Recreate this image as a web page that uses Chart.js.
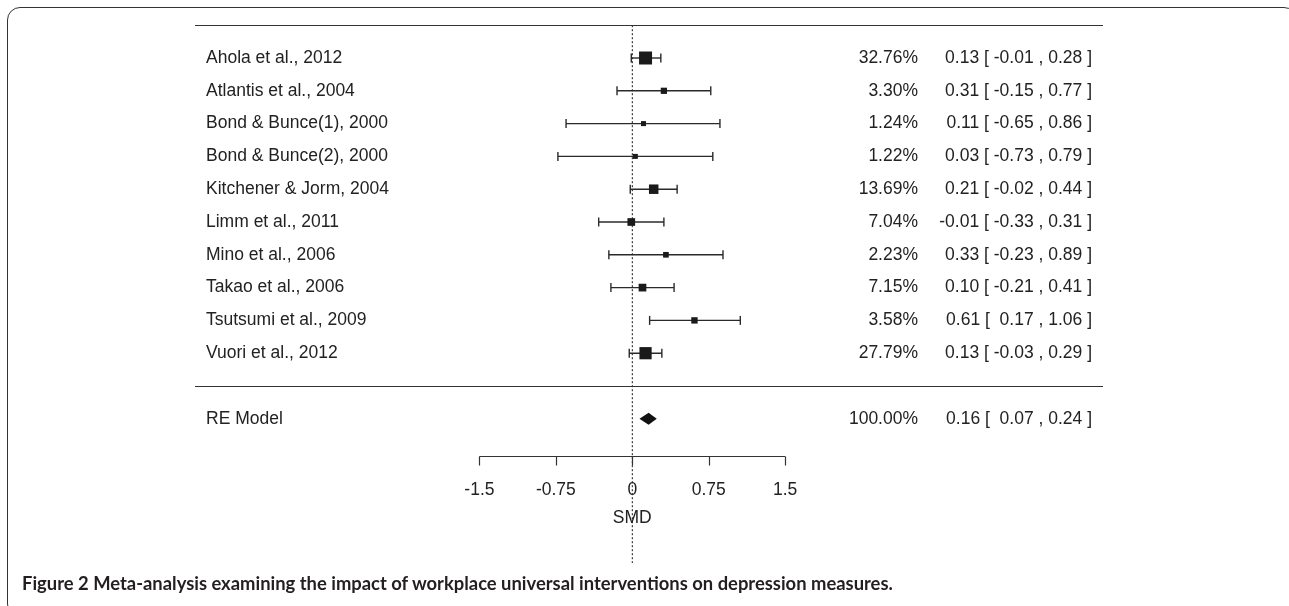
<!DOCTYPE html>
<html>
<head>
<meta charset="utf-8">
<script src="https://cdn.jsdelivr.net/npm/chart.js@4.4.1/dist/chart.umd.min.js"></script>
<style>
  html, body { margin: 0; padding: 0; background: #fff; overflow: hidden; }
  #wrap { position: relative; width: 1289px; height: 606px; }
  #frame {
    position: absolute; left: 7px; top: 7px; width: 1290px; height: 610px;
    border: 1.5px solid #333; border-radius: 13px; box-sizing: border-box;
  }
  #forest { position: absolute; left: 0; top: 0; }
  #caption {
    position: absolute; left: 22px; top: 572px; white-space: nowrap;
    font-family: Lato, "Open Sans", sans-serif; font-weight: 700; font-size: 18.4px;
    color: #231f20;
  }
</style>
</head>
<body>
<div id="wrap">
  <div id="frame"></div>
  <canvas id="forest" width="1289" height="606"></canvas>
  <div id="caption">Figure 2 Meta-analysis examining the impact of workplace universal interventions on depression measures.</div>
</div>
<script>
// ---- data ----
const studies = [
  "Ahola et al., 2012",
  "Atlantis et al., 2004",
  "Bond & Bunce(1), 2000",
  "Bond & Bunce(2), 2000",
  "Kitchener & Jorm, 2004",
  "Limm et al., 2011",
  "Mino et al., 2006",
  "Takao et al., 2006",
  "Tsutsumi et al., 2009",
  "Vuori et al., 2012",
];
const weights = [32.76, 3.30, 1.24, 1.22, 13.69, 7.04, 2.23, 7.15, 3.58, 27.79];
const estimates = [0.13, 0.31, 0.11, 0.03, 0.21, -0.01, 0.33, 0.10, 0.61, 0.13];
const lowers = [-0.01, -0.15, -0.65, -0.73, -0.02, -0.33, -0.23, -0.21, 0.17, -0.03];
const uppers = [0.28, 0.77, 0.86, 0.79, 0.44, 0.31, 0.89, 0.41, 1.06, 0.29];

const pooledLabel = "RE Model";
const pooledWeight = 100.00;
const pooledEst = 0.16;
const pooledLower = 0.07;
const pooledUpper = 0.24;

const xTicks = [-1.5, -0.75, 0, 0.75, 1.5];
const xTickLabels = ["-1.5", "-0.75", "0", "0.75", "1.5"];
const xTitle = "SMD";

// ---- layout (pixels) ----
const ZERO_PX = 632.3, PX_PER_UNIT = 101.9;
const ROW0_PX = 386, PX_PER_ROW = 32.8;
const W = 1289, H = 606;
const FONT = '17.5px "Liberation Sans", Arial, sans-serif';
const INK = "#222";

// study rows k..1, separator at 0, summary at -1 (metafor style)
const rows = studies.map((s, i) => studies.length - i);
const pooledRow = -1;
const topRow = studies.length + 1;
const axisRow = -2.13;

// square side grows with sqrt(weight)
const sq = weights.map(Math.sqrt);
const sqMin = Math.min(...sq), sqMax = Math.max(...sq);
const sides = sq.map(v => 5 + (v - sqMin) / (sqMax - sqMin) * 8);

function ciText(e, lo, up) {
  const pad = v => (v < 0 ? "" : " ") + v.toFixed(2);
  return `${e.toFixed(2)} [ ${pad(lo)} , ${up.toFixed(2)} ]`;
}

const ciSets = studies.map((s, i) => ({
  type: "line",
  data: [{ x: lowers[i], y: rows[i] }, { x: uppers[i], y: rows[i] }],
  borderColor: "#2a2a2a",
  borderWidth: 1.4,
  pointStyle: "line",
  rotation: 90,
  pointRadius: 4.5,
  pointBorderWidth: 1.4,
  pointBorderColor: "#2a2a2a",
}));

// text, rules, diamond and axis, all placed through the chart scales
const forestExtras = {
  id: "forestExtras",
  afterDatasetsDraw(chart) {
    const { ctx } = chart;
    const xs = chart.scales.x, ys = chart.scales.y;
    ctx.save();

    // horizontal rules
    ctx.strokeStyle = "#333";
    ctx.lineWidth = 1.2;
    [topRow, 0].forEach(r => {
      const y = Math.round(ys.getPixelForValue(r)) + 0.5;
      ctx.beginPath();
      ctx.moveTo(195, y);
      ctx.lineTo(1103, y);
      ctx.stroke();
    });

    // pooled diamond
    const yc = ys.getPixelForValue(pooledRow);
    ctx.fillStyle = "#111";
    ctx.beginPath();
    ctx.moveTo(xs.getPixelForValue(pooledLower), yc);
    ctx.lineTo(xs.getPixelForValue(pooledEst), yc - 6);
    ctx.lineTo(xs.getPixelForValue(pooledUpper), yc);
    ctx.lineTo(xs.getPixelForValue(pooledEst), yc + 6);
    ctx.closePath();
    ctx.fill();

    // x axis
    const ya = Math.round(ys.getPixelForValue(axisRow)) + 0.5;
    ctx.lineWidth = 1.2;
    ctx.beginPath();
    ctx.moveTo(xs.getPixelForValue(xTicks[0]), ya);
    ctx.lineTo(xs.getPixelForValue(xTicks[xTicks.length - 1]), ya);
    xTicks.forEach(t => {
      const x = Math.round(xs.getPixelForValue(t)) + 0.5;
      ctx.moveTo(x, ya);
      ctx.lineTo(x, ya + 9);
    });
    ctx.stroke();

    ctx.font = FONT;
    ctx.fillStyle = INK;
    ctx.textBaseline = "middle";
    ctx.textAlign = "center";
    xTicks.forEach((t, i) => ctx.fillText(xTickLabels[i], xs.getPixelForValue(t), ya + 34));
    ctx.fillText(xTitle, xs.getPixelForValue(0), ya + 62);

    // labels and annotations
    studies.forEach((s, i) => {
      const y = ys.getPixelForValue(rows[i]);
      ctx.textAlign = "left";
      ctx.fillText(s, 206, y);
      ctx.textAlign = "right";
      ctx.fillText(weights[i].toFixed(2) + "%", 918, y);
      ctx.fillText(ciText(estimates[i], lowers[i], uppers[i]), 1092, y);
    });
    ctx.textAlign = "left";
    ctx.fillText(pooledLabel, 206, yc);
    ctx.textAlign = "right";
    ctx.fillText(pooledWeight.toFixed(2) + "%", 918, yc);
    ctx.fillText(ciText(pooledEst, pooledLower, pooledUpper), 1092, yc);

    ctx.restore();
  },
};

new Chart(document.getElementById("forest"), {
  type: "scatter",
  data: {
    datasets: [
      {
        type: "scatter",
        data: estimates.map((e, i) => ({ x: e, y: rows[i] })),
        pointStyle: "rect",
        pointRadius: sides.map(s => s / Math.SQRT2),
        backgroundColor: "#1a1a1a",
        borderWidth: 0,
      },
      ...ciSets,
      {
        type: "line",
        data: [{ x: 0, y: topRow }, { x: 0, y: -5.4 }],
        borderColor: "#111",
        borderWidth: 1,
        borderDash: [2, 2],
        pointRadius: 0,
      },
    ],
  },
  options: {
    responsive: false,
    animation: false,
    devicePixelRatio: 1,
    layout: { padding: 0, autoPadding: false },
    plugins: { legend: { display: false }, tooltip: { enabled: false } },
    scales: {
      x: {
        type: "linear",
        display: false,
        min: (0 - ZERO_PX) / PX_PER_UNIT,
        max: (W - ZERO_PX) / PX_PER_UNIT,
      },
      y: {
        type: "linear",
        display: false,
        min: (ROW0_PX - H) / PX_PER_ROW,
        max: ROW0_PX / PX_PER_ROW,
      },
    },
  },
  plugins: [forestExtras],
});
</script>
</body>
</html>
